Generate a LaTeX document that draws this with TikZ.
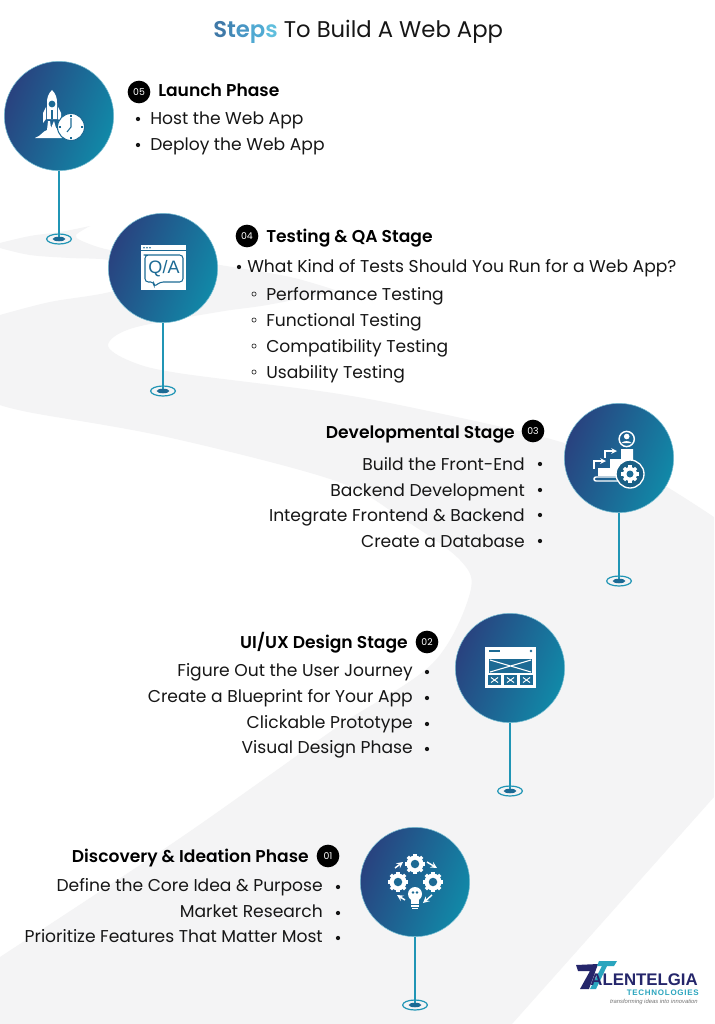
\documentclass[tikz,border=0pt]{standalone}
\usepackage{fontspec}
\setmainfont{Poppins}
\newfontfamily\headfont{Poppins SemiBold}
\newfontfamily\logofont{Liberation Sans}
\newfontfamily\logowide[LetterSpace=9]{Liberation Sans}
\usetikzlibrary{shapes.geometric}
\definecolor{roadgrey}{HTML}{F4F4F5}
\definecolor{stagedark}{HTML}{29427F}
\definecolor{stageteal}{HTML}{1189A8}
\definecolor{stemteal}{HTML}{2095B5}
\definecolor{icondark}{HTML}{1C6A94}
\definecolor{inktext}{HTML}{161616}
\definecolor{logonavy}{HTML}{25266B}
\definecolor{logoteal}{HTML}{2AA5BE}
\tikzset{%
  stagedot/.style={draw=stemteal!60,line width=.4pt,shape=circle,minimum size=82pt,inner sep=0,shading=axis,top color=stagedark,bottom color=stageteal,shading angle=68},
  pinring/.style={draw=stemteal,shape=ellipse,line width=.9pt,minimum width=18.5pt,minimum height=7.5pt,inner sep=0},
  pincore/.style={fill=icondark,shape=ellipse,minimum width=9.5pt,minimum height=3.4pt,inner sep=0},
  stem/.style={draw=stemteal,line width=1.1pt},
  badge/.style={shape=circle,fill=black,text=white,minimum size=17pt,inner sep=0,font=\fontsize{7}{8}\selectfont},
  itemtext/.style={inner sep=0,text=inktext,font=\fontsize{12.85}{16}\selectfont},
  headtext/.style={inner sep=0,text=black,font=\headfont\fontsize{12.85}{16}\selectfont},
  listdot/.style={shape=circle,fill=inktext,minimum size=3.2pt,inner sep=0},
  subdot/.style={shape=circle,draw=inktext,line width=.45pt,minimum size=3.2pt,inner sep=0},
  icon/.style={fill=white,draw=none},
  iconline/.style={draw=white,line width=1.1pt},
  cutline/.style={draw=icondark,line width=.8pt}
}
% gear with a hole: x, y, radius, hole colour
\newcommand{\gearicon}[4]{%
  \foreach \a in {0,45,...,315}
    \fill[white,shift={(#1,#2)},rotate=\a] (#3-1,-1.6) rectangle (#3+1.6,1.6);
  \fill[white] (#1,#2) circle (#3);
  \fill[#4] (#1,#2) circle (#3*.5);
}
\begin{document}
\begin{tikzpicture}[x=.75pt,y=-.75pt]
  \useasboundingbox (0,0) rectangle (714,1024);
  \fill[white] (0,0) rectangle (714,1024);
  % road
  \fill[roadgrey] (90,226)
    -- plot[smooth,tension=.55] coordinates {(90,226) (76,235) (82,241) (110,250) (160,255) (220,265) (290,277) (338,291)}
    -- plot[smooth,tension=.55] coordinates {(338,291) (267,305) (218,312) (133,328) (108,345) (130,361) (178,373) (333,393) (433,412) (543,437) (620,462) (667,487) (714,517)}
    -- (714,797) -- (512,1024) -- (0,1024) -- (0,957)
    -- plot[smooth,tension=.55] coordinates {(0,957) (167,847) (267,777) (343,723) (433,663) (470,593) (460,560) (400,517) (333,480) (167,437) (33,413) (0,405)}
    -- (0,315)
    -- plot[smooth,tension=.55] coordinates {(0,315) (50,302) (110,292) (175,272)}
    -- plot[smooth,tension=.55] coordinates {(175,272) (110,260) (70,258) (30,255) (0,248)}
    -- (0,243)
    -- plot[smooth,tension=.55] coordinates {(0,243) (30,236) (60,232) (90,226)} -- cycle;
  % title
  \path (213,38) node (title)[anchor=base west,inner sep=0,font=\fontsize{17.05}{20}\selectfont,text=inktext]
    {{\headfont\textcolor[HTML]{3F79A8}{S}\textcolor[HTML]{4287B5}{t}\textcolor[HTML]{4896C4}{e}\textcolor[HTML]{50A9D2}{p}\textcolor[HTML]{5FBEDD}{s}} To Build A Web App};
  % stages and pins
  \foreach \n/\x/\y/\py in {5/59/116/239,4/163/268/391,3/619/458/581,2/510/668/791,1/415/882/1005}{
    \path (\x,\py) node (pin\n)[pinring]{};
    \path (\x,\y) node (stage\n)[stagedot]{};
    \draw[stem] (stage\n) -- (pin\n.center);
    \path (\x,\py) node (core\n)[pincore]{};
  }
  % badges
  \path
    (139,92) node (num5)[badge]{05}
    (247,236) node (num4)[badge]{04}
    (533,431) node (num3)[badge]{03}
    (427,642) node (num2)[badge]{02}
    (328,856) node (num1)[badge]{01};
  % headings
  \path
    (158,96) node (head5)[headtext,anchor=base west]{Launch Phase}
    (266,242) node (head4)[headtext,anchor=base west]{Testing \& QA Stage}
    (515,438) node (head3)[headtext,anchor=base east]{Developmental Stage}
    (408,648) node (head2)[headtext,anchor=base east]{UI/UX Design Stage}
    (309,862) node (head1)[headtext,anchor=base east]{Discovery \& Ideation Phase};
  % left hand lists
  \foreach \y/\t [count=\i] in {118/Host the Web App,144/Deploy the Web App}{
    \path (150,\y+6) node (item5\i)[itemtext,anchor=base west]{\t};
    \path (138,\y+1) node (dot5\i)[listdot]{};
  }
  \path (247,272) node (item4)[itemtext,anchor=base west]{What Kind of Tests Should You Run for a Web App?};
  \path (239,267) node (dot4)[listdot]{};
  \foreach \y/\t [count=\i] in {294/Performance Testing,320/Functional Testing,346/Compatibility Testing,372/Usability Testing}{
    \path (266,\y+6) node (sub4\i)[itemtext,anchor=base west]{\t};
    \path (254,\y) node (subdot4\i)[subdot]{};
  }
  % right hand lists
  \foreach \y/\t [count=\i] in {464/Build the Front-End,490/Backend Development,515/Integrate Frontend \& Backend,541/Create a Database}{
    \path (525,\y+6) node (item3\i)[itemtext,anchor=base east]{\t};
    \path (540,\y) node (dot3\i)[listdot]{};
  }
  \foreach \y/\t [count=\i] in {670/Figure Out the User Journey,696/Create a Blueprint for Your App,722/Clickable Prototype,747/Visual Design Phase}{
    \path (413,\y+6) node (item2\i)[itemtext,anchor=base east]{\t};
    \path (427,\y+2) node (dot2\i)[listdot]{};
  }
  \foreach \y/\t [count=\i] in {885/Define the Core Idea \& Purpose,911/Market Research,936/Prioritize Features That Matter Most}{
    \path (323,\y+6) node (item1\i)[itemtext,anchor=base east]{\t};
    \path (338,\y+2) node (dot1\i)[listdot]{};
  }
  % rocket and clock
  \fill[icon] (52,90) .. controls (48,94) and (47,98) .. (47,103) -- (47,119) -- (57,119) -- (57,103) .. controls (57,98) and (56,94) .. (52,90) -- cycle;
  \fill[icondark] (52,104) circle (3.4);
  \fill[icondark] (51,110) rectangle (53,119);
  \fill[icon] (46,107) -- (43,113) -- (43,123) -- (46,119) -- cycle;
  \fill[icon] (58,107) -- (61,113) -- (61,122) -- (58,119) -- cycle;
  \fill[icon] (35,138) .. controls (41,136) and (43,131) .. (47,130) -- (48,121) -- (50,121) -- (51,128) -- (54,121) -- (56,128) -- (60,130) -- (62,138) -- cycle;
  \filldraw[fill=white,draw=icondark,line width=.8pt] (71,127) circle (13.5);
  \draw[cutline] (71,118) -- (71,127) -- (67,132);
  \foreach \a in {0,90,180,270}
    \draw[cutline,shift={(71,127)},rotate=\a] (10,0) -- (12,0);
  % Q/A window
  \fill[icon] (141,245) rectangle (186,290);
  \draw[icondark,line width=.5pt] (141,250.5) -- (186,250.5);
  \foreach \x in {144,147,150}
    \fill[icondark] (\x,247.8) circle (.9);
  \draw[cutline,rounded corners=2.5pt] (147,255) -- (183,255) -- (183,282) -- (160,282) -- (154,287) -- (154,282) -- (145,282) -- (145,255) -- cycle;
  \path (164,268.5) node (qatext)[inner sep=0,text=icondark,font=\logofont\fontsize{13.5}{16}\selectfont]{Q/A};
  % stairs, person and gear
  \draw[iconline] (626.7,439) circle (7.6);
  \fill[icon] (626.7,436.5) circle (2.8);
  \fill[icon] (621.5,443) .. controls (623,440.5) and (630,440.5) .. (631.5,443) -- cycle;
  \fill[icon] (598,476) -- (598,468) -- (610,468) -- (610,459) -- (621,459) -- (621,449) -- (633,449) -- (633,476) -- cycle;
  \draw[iconline,rounded corners=1.5pt] (594,477) rectangle (622,481);
  \draw[iconline,-stealth,line width=.9pt] (594,469) -- (594,461) -- (606,461);
  \draw[iconline,-stealth,line width=.9pt] (605,458) -- (605,451) -- (617,451);
  \filldraw[fill=icondark!90!black,draw=white,line width=1pt] (630,474) circle (14);
  \gearicon{630}{474}{7}{icondark}
  % wireframe window
  \fill[icon] (485,647) rectangle (536,688);
  \draw[icondark,line width=1pt] (489,651) -- (500,651);
  \fill[icondark] (531,651) circle (1.3);
  \fill[icondark] (489,659) rectangle (532,672.5);
  \draw[white,line width=.8pt] (490,660) -- (531,672) (490,672) -- (531,660);
  \foreach \x in {488,504,520}{
    \fill[icondark] (\x,675) rectangle (\x+13,685);
    \draw[white,line width=.7pt] (\x+3,677.5) -- (\x+10,682.5) (\x+3,682.5) -- (\x+10,677.5);
  }
  % gears and bulb
  \gearicon{415}{864}{8.5}{icondark}
  \gearicon{398}{882}{8.5}{icondark}
  \gearicon{433}{882}{8.5}{icondark}
  \draw[iconline,-stealth] (395,868) -- (403,862);
  \draw[iconline,-stealth] (427,862) -- (437,868);
  \draw[iconline,-stealth] (432,895) -- (423,903);
  \draw[iconline,-stealth] (405,900) -- (397,895);
  \fill[icon] (415,894) circle (7);
  \fill[icon] (411,897) rectangle (419,904);
  \fill[icondark] (413,892.5) circle (1.4) (417,892.5) circle (1.4);
  \draw[iconline,line width=.8pt] (411,906) -- (419,906) (412,908.5) -- (418,908.5);
  % logo
  \fill[logonavy] (576,965) -- (598,964) -- (589,989) -- (580,989) -- (590,971) -- (578,971) -- cycle;
  \fill[logoteal] (599,961) -- (617,961) -- (614,966) -- (607,966) -- (596,989) -- (590,989) -- (602,966) -- (597,966) -- cycle;
  \path (698,985.5) node (logoname)[anchor=base east,inner sep=0,text=logonavy,font=\logofont\bfseries\fontsize{12.6}{14}\selectfont]{ALENTELGIA};
  \path (699,995.5) node (logosub)[anchor=base east,inner sep=0,text=logoteal,font=\logowide\bfseries\fontsize{6}{7}\selectfont]{TECHNOLOGIES};
  \path (698,1003) node (logotag)[anchor=base east,inner sep=0,text=black!55,font=\logofont\itshape\fontsize{4.4}{5}\selectfont]{transforming ideas into innovation};
\end{tikzpicture}
\end{document}
